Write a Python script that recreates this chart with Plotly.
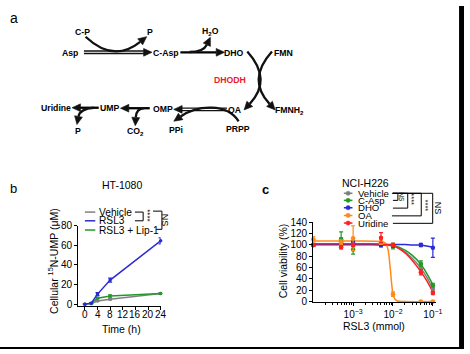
import math
import plotly.graph_objects as go

W, H = 470, 354
FONT = "Liberation Sans, Arial, sans-serif"

# ---------------- Panel b data (HT-1080) ----------------
time_h = [0, 2, 4, 8, 24]
b_vehicle = [0, 0.5, 3.2, 5.0, 10.8]
b_vehicle_err = [0.2, 0.3, 0.5, 0.8, 0.8]
b_rsl3 = [0, 1.0, 10.2, 24.5, 64.5]
b_rsl3_err = [0.2, 0.3, 1.5, 2.0, 3.0]
b_lip1 = [0, 0.8, 6.0, 8.2, 10.8]
b_lip1_err = [0.2, 0.3, 0.8, 1.2, 0.8]
b_names = ["Vehicle", "RSL3", "RSL3 + Lip-1"]
b_ticks = [0, 4, 8, 12, 16, 20, 24]
b_yticks = [0, 20, 40, 60, 80]

# ---------------- Panel c data (NCI-H226) ----------------
rsl3_mmol = [1e-4, 5e-4, 1e-3, 5e-3, 1e-2, 5e-2, 1e-1]
c_names = ["Vehicle", "C-Asp", "DHO", "OA", "Uridine"]
c_vehicle = [100, 106, 103, 100, 100, 60, 22]
c_vehicle_err = [2, 7, 5, 3, 3, 5, 4]
c_casp = [100, 110, 92, 100, 98, 67, 29]
c_casp_err = [2, 13, 8, 3, 5, 5, 3]
c_dho = [100, 102, 103, 100, 99, 100, 95]
c_dho_err = [2, 3, 3, 3, 3, 3, 17]
c_oa = [110, 105, 112, 105, 13, 0, 0]
c_oa_err = [5, 4, 22, 4, 4, 1, 1]
c_uri = [100, 96, 100, 113, 100, 52, 15]
c_uri_err = [2, 3, 3, 9, 3, 5, 3]

# fitted curves
fit_x = [1e-4, 1e-3, 3e-3, 6e-3, 1e-2, 2e-2, 3e-2, 5e-2, 7e-2, 1e-1]
fit_vehicle = [101, 101, 101, 100, 98, 88, 77, 59, 43, 23]
fit_casp = [101, 101, 101, 100, 99, 91, 82, 66, 50, 30]
fit_dho = [101, 101, 101, 101, 101, 101, 100, 100, 98, 96]
fit_uri = [102, 102, 102, 101, 99, 86, 73, 53, 37, 17]
fit_oa_x = [1e-4, 1e-3, 5e-3, 6.5e-3, 7.5e-3, 8.5e-3, 9.3e-3, 1e-2, 1.1e-2, 1.3e-2, 2e-2, 1e-1]
fit_oa = [107, 107, 106, 103, 92, 60, 30, 13, 5, 1, 0, 0]
c_yticks = [0, 20, 40, 60, 80, 100, 120, 140]
c_xticks = [1e-3, 1e-2, 1e-1]
c_xticktext = ["10<sup>−3</sup>", "10<sup>−2</sup>", "10<sup>−1</sup>"]
c_minor = [m * 10 ** e for e in (-4, -3, -2) for m in range(2, 10)]

GRAY = "#808080"
BLUE = "#2b2bd6"
GREEN = "#229a2a"
ORANGE = "#ff8a1c"
RED = "#ff2020"
c_colors = [GRAY, GREEN, BLUE, ORANGE, RED]

fig = go.Figure()

# ---- panel b traces ----
for y, e, col in [(b_vehicle, b_vehicle_err, GRAY), (b_lip1, b_lip1_err, GREEN), (b_rsl3, b_rsl3_err, BLUE)]:
    fig.add_trace(go.Scatter(
        x=time_h, y=y, mode="lines+markers", xaxis="x", yaxis="y",
        line=dict(color=col, width=1.5), marker=dict(color=col, size=3.5),
        error_y=dict(type="data", array=e, color=col, thickness=1.2, width=2),
        showlegend=False, cliponaxis=False, hoverinfo="skip"))

# ---- panel c traces ----
for fx, fy, col in [(fit_x, fit_vehicle, GRAY), (fit_x, fit_casp, GREEN), (fit_x, fit_dho, BLUE),
                    (fit_oa_x, fit_oa, ORANGE), (fit_x, fit_uri, RED)]:
    fig.add_trace(go.Scatter(
        x=fx, y=fy, mode="lines", xaxis="x2", yaxis="y2",
        line=dict(color=col, width=1.5, shape="spline", smoothing=0.8),
        showlegend=False, hoverinfo="skip"))
for y, e, col in zip([c_vehicle, c_casp, c_dho, c_oa, c_uri],
                     [c_vehicle_err, c_casp_err, c_dho_err, c_oa_err, c_uri_err], c_colors):
    fig.add_trace(go.Scatter(
        x=rsl3_mmol, y=y, mode="markers", xaxis="x2", yaxis="y2",
        marker=dict(color=col, size=4.5),
        error_y=dict(type="data", array=e, color=col, thickness=1.2, width=2),
        showlegend=False, cliponaxis=False, hoverinfo="skip"))

# dummy trace for pixel overlay axes
fig.add_trace(go.Scatter(x=[0], y=[0], xaxis="x3", yaxis="y3", mode="markers",
                         marker=dict(opacity=0), showlegend=False, hoverinfo="skip"))

shapes = []
ann = []


def txt(x, y, s, size=8.7, bold=True, color="black", xanchor="center", angle=0, xref="x3"):
    ann.append(dict(x=x, y=y, xref=xref, yref="y3", text=("<b>%s</b>" % s) if bold else s,
                    showarrow=False, xanchor=xanchor, yanchor="middle", textangle=angle,
                    font=dict(size=size, color=color, family=FONT)))


def line(x0, y0, x1, y1, w=1.0, color="black"):
    shapes.append(dict(type="line", x0=x0, y0=y0, x1=x1, y1=y1, xref="x3", yref="y3",
                       line=dict(color=color, width=w)))


def head(cx, cy, ex, ey, L=8.5, hw=4.0):
    dx, dy = ex - cx, ey - cy
    n = math.hypot(dx, dy)
    dx, dy = dx / n, dy / n
    tx, ty = ex + L * dx, ey + L * dy
    px, py = -dy, dx
    p = "M %.2f,%.2f L %.2f,%.2f L %.2f,%.2f Z" % (tx, ty, ex + hw * px, ey + hw * py, ex - hw * px, ey - hw * py)
    shapes.append(dict(type="path", path=p, xref="x3", yref="y3", fillcolor="#111",
                       line=dict(color="#111", width=0.6)))


def curve(p, w=2.3):
    shapes.append(dict(type="path", path=p, xref="x3", yref="y3", fillcolor="rgba(0,0,0,0)",
                       line=dict(color="#111", width=w)))


# ---------------- Panel a: pathway ----------------
txt(14, 12, "a", size=14, bold=False)
# Asp -> C-Asp (double line)
line(85, 46.5, 146, 46.5, 1.4, "#111"); line(85, 49.1, 146, 49.1, 1.4, "#111")
head(140, 47.8, 145.5, 47.8)
curve("M 86.7,31.7 Q 115,59 142,37")
head(115, 59, 142, 37)
# C-Asp -> DHO
line(182.7, 47.8, 219, 47.8, 2.3)
head(210, 47.8, 219, 47.8)
curve("M 192,47.5 Q 206,47.5 209.5,40")
head(206, 47.5, 209.5, 40)
# DHO -> OA, FMN -> FMNH2
curve("M 250.5,47 Q 276,76 253,101")
head(276, 76, 253, 101)
curve("M 275.5,47 Q 250,76 273,101")
head(250, 76, 273, 101)
# OA -> OMP (double line)
line(230, 105.4, 183, 105.4, 1.4, "#111"); line(230, 108.0, 183, 108.0, 1.4, "#111")
head(190, 106.7, 184.5, 106.7)
curve("M 241.7,119 C 230,100 200,102 183,114")
head(200, 102, 183, 114)
# OMP -> UMP
line(151.7, 105.5, 130, 105.5, 2.3)
head(140, 105.5, 130.5, 105.5)
curve("M 146,105.5 Q 138,106 137.5,115")
head(138, 106, 137.5, 115)
# UMP -> Uridine
line(100, 105, 81, 105, 2.3)
head(90, 105, 81.5, 105)
curve("M 95,105 Q 81,106 79.5,114")
head(81, 106, 79.5, 114)

for x, y, s in [(83.3, 27, "C-P"), (151.5, 27.3, "P"), (70.5, 48, "Asp"), (168, 48, "C-Asp"),
                (213.3, 26, "H<sub>2</sub>O"), (237.5, 48, "DHO"), (287.5, 48, "FMN"),
                (57, 105, "Uridine"), (111, 105, "UMP"), (165, 106.5, "OMP"), (238, 107, "OA"),
                (293, 107.5, "FMNH<sub>2</sub>"), (79, 129, "P"), (137, 129.5, "CO<sub>2</sub>"),
                (178, 127.5, "PPi"), (241, 127, "PRPP")]:
    txt(x, y, s)
txt(233, 76, "DHODH", color="#e8202a")

# ---------------- Panel b annotations ----------------
txt(14, 188.5, "b", size=13, bold=False)
txt(123.3, 185, "HT-1080", size=10.5, bold=False)
txt(123.3, 333.5, "Time (h)", size=10.5, bold=False)
txt(53.3, 263.5, "Cellular <sup>15</sup>N-UMP (μM)", size=10.5, bold=False, angle=-90)
for t in b_ticks:
    txt(t, 318.5, str(t), size=10, bold=False, xref="x")
b_leg_y = [212.7, 221.7, 231.2]
for name, col, yy in zip(b_names, [GRAY, BLUE, GREEN], b_leg_y):
    line(86, yy, 96.5, yy, 1.5, col)
    txt(98.3, yy, name, size=10.2, bold=False, xanchor="left")
# brackets
line(136.7, 212.7, 145, 212.7); line(136.7, 221.7, 145, 221.7); line(145, 212.7, 145, 221.7)
txt(150, 216, "****", size=8, bold=False, angle=90)
line(155, 211.7, 164, 211.7); line(158.3, 230.5, 164, 230.5); line(164, 211.7, 164, 230.5)
txt(168, 221.5, "NS", size=9, bold=False, angle=90)

# ---------------- Panel c annotations ----------------
txt(268.5, 189, "c", size=13, bold=True)
txt(370, 183, "NCI-H226", size=10.5, bold=False)
txt(379.3, 330.5, "RSL3 (mmol)", size=10.5, bold=False)
txt(286.7, 263.5, "Cell viability (%)", size=10.5, bold=False, angle=-90)
c_leg_y = [193.3, 200.6, 208.2, 216.2, 224.0]
for name, col, yy in zip(c_names, c_colors, c_leg_y):
    line(348.3, yy, 357, yy, 1.5, col)
    shapes.append(dict(type="circle", x0=350.4, x1=354.8, y0=yy - 2.2, y1=yy + 2.2, xref="x3", yref="y3",
                       fillcolor=col, line=dict(color=col, width=0.5)))
    txt(360.5, yy, name, size=9.6, bold=False, xanchor="left")
# brackets: Vehicle vs others
top = 193.3
for xv, yb, xs in [(403, 200.6, 398), (413, 208.6, 398), (426.7, 216.6, 397), (438.3, 224.3, 398)]:
    line(xs, top, xv, top); line(xs, yb, xv, yb); line(xv, top, xv, yb)
txt(407.3, 197.5, "NS", size=6.5, bold=False, angle=90)
txt(417.3, 199.5, "****", size=7.5, bold=False, angle=90)
txt(430.5, 206, "****", size=7.5, bold=False, angle=90)
txt(444, 208.5, "NS", size=9, bold=False, angle=90)

# black frame strips (right and bottom)
shapes.append(dict(type="rect", x0=465, x1=471, y0=-1, y1=355, xref="x3", yref="y3",
                   fillcolor="black", line=dict(width=0)))
shapes.append(dict(type="rect", x0=-1, x1=471, y0=352, y1=355, xref="x3", yref="y3",
                   fillcolor="black", line=dict(width=0)))

axis_common = dict(showline=True, linecolor="black", linewidth=1.2, ticks="outside", ticklen=3,
                   tickwidth=1.1, tickcolor="black", showgrid=False, zeroline=False, tickangle=0,
                   tickfont=dict(size=10, color="black", family=FONT), fixedrange=True)

fig.update_layout(
    width=W, height=H, margin=dict(l=0, r=0, t=0, b=0),
    paper_bgcolor="white", plot_bgcolor="rgba(0,0,0,0)",
    font=dict(family=FONT, color="black"),
    showlegend=False,
    xaxis=dict(domain=[79.3 / W, 162.7 / W], range=[-2.1, 24], tickvals=b_ticks, showticklabels=False,
               anchor="y", **axis_common),
    yaxis=dict(domain=[1 - 309.2 / H, 1 - 226.7 / H], range=[-1.5, 80], tickvals=b_yticks, anchor="x", **axis_common),
    xaxis2=dict(domain=[317.3 / W, 441.7 / W], type="log", range=[-4, -0.92], tickvals=c_xticks,
                ticktext=c_xticktext, anchor="y2",
                minor=dict(tickvals=c_minor, ticks="outside", ticklen=2, tickcolor="black", tickwidth=1),
                **axis_common),
    yaxis2=dict(domain=[1 - 305.6 / H, 1 - 223.3 / H], range=[-1, 140], tickvals=c_yticks, anchor="x2",
                **axis_common),
    xaxis3=dict(domain=[0, 1], range=[0, W], visible=False, anchor="y3", fixedrange=True),
    yaxis3=dict(domain=[0, 1], range=[H, 0], visible=False, anchor="x3", fixedrange=True),
    shapes=shapes, annotations=ann,
)

fig.write_html("out.html")
